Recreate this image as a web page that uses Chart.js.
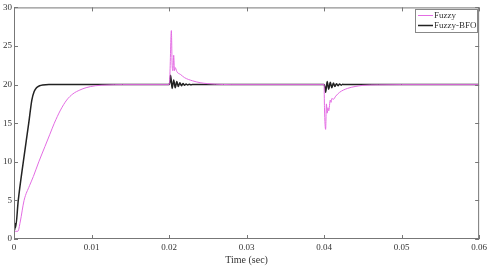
<!DOCTYPE html>
<html>
<head>
<meta charset="utf-8">
<script src="https://cdn.jsdelivr.net/npm/chart.js@4.4.0/dist/chart.umd.min.js"></script>
<style>
  html, body { margin: 0; padding: 0; background: #fff; }
  #wrap { width: 490px; height: 266px; }
</style>
</head>
<body>
<div id="wrap"><canvas id="myChart"></canvas></div>
<script>
// Fuzzy response (magenta)
let fuzzyT = [0, 0.0002, 0.0005, 0.0008, 0.0013, 0.002, 0.0025, 0.0032, 0.004, 0.0046, 0.0052, 0.006, 0.0068, 0.0076, 0.0085, 0.0093, 0.0105, 0.012, 0.014,
  0.0200, 0.0201, 0.0203, 0.0204, 0.0205, 0.0206, 0.0207, 0.0208, 0.0209, 0.021, 0.0215, 0.022, 0.023, 0.024, 0.025, 0.026, 0.028,
  0.0400, 0.04005, 0.0402, 0.0403, 0.0404, 0.0405, 0.0406, 0.0408, 0.0409, 0.041, 0.0412, 0.0415, 0.042, 0.043, 0.044, 0.045, 0.047, 0.05, 0.06]
let fuzzyY = [0.8, 1.0, 1.0, 2.2, 5, 6.9, 8.1, 10, 12, 13.5, 15, 16.7, 18, 18.8, 19.3, 19.6, 19.85, 19.95, 20,
  20, 21, 27, 22.5, 21.8, 23.8, 21.8, 22.2, 22.0, 21.7, 21.3, 20.9, 20.5, 20.25, 20.12, 20.05, 20,
  20, 17, 14.2, 17.5, 16.3, 17, 16.6, 18.0, 17.7, 18.2, 18.1, 18.5, 19.0, 19.5, 19.75, 19.9, 19.97, 20, 20]

// Fuzzy-BFO response (black)
let bfoT = [0, 0.00005, 0.0001, 0.00015, 0.0002, 0.00055, 0.0012, 0.0019, 0.0023, 0.0026, 0.0029, 0.0033, 0.0037, 0.0045,
  0.0200, 0.0201, 0.0202, 0.0204, 0.0206, 0.0208, 0.0210, 0.0212, 0.0214, 0.0216, 0.0218, 0.0220, 0.0222, 0.0224, 0.0226, 0.0228, 0.023,
  0.0400, 0.0401, 0.0402, 0.0404, 0.0406, 0.0408, 0.0410, 0.0412, 0.0414, 0.0416, 0.0418, 0.0420, 0.0422, 0.0424, 0.0426, 0.06]
let bfoY = [0.8, 1.8, 1.2, 2, 1.5, 5, 10, 15, 18, 19.1, 19.6, 19.85, 19.95, 20,
  20, 20.3, 21.2, 19.5, 20.6, 19.6, 20.4, 19.75, 20.25, 19.85, 20.15, 19.9, 20.08, 19.95, 20.04, 19.98, 20,
  20, 19.7, 19.0, 20.4, 19.4, 20.3, 19.6, 20.2, 19.75, 20.12, 19.85, 20.07, 19.93, 20.03, 20, 20]

let xTicks = [0, 0.01, 0.02, 0.03, 0.04, 0.05, 0.06]
let yTicks = [0, 5, 10, 15, 20, 25, 30]

function pts(t, y) {
  let out = []
  for (let i = 0; i < t.length; i++) out.push({ x: t[i], y: y[i] })
  return out
}

const serif = '"Liberation Serif", "Times New Roman", serif'

// inward ticks on all four sides + box + legend
const frame = {
  id: 'frame',
  afterDraw(chart) {
    const c = chart.ctx, a = chart.chartArea
    const xs = chart.scales.x, ys = chart.scales.y
    c.save()
    c.strokeStyle = '#777'
    c.lineWidth = 1
    c.strokeRect(a.left + 0.5, a.top + 0.5, a.right - a.left - 1, a.bottom - a.top - 1)
    c.beginPath()
    xTicks.forEach(v => {
      let px = Math.round(xs.getPixelForValue(v)) + 0.5
      c.moveTo(px, a.bottom); c.lineTo(px, a.bottom - 4)
      c.moveTo(px, a.top); c.lineTo(px, a.top + 4)
    })
    yTicks.forEach(v => {
      let py = Math.round(ys.getPixelForValue(v)) + 0.5
      c.moveTo(a.left, py); c.lineTo(a.left + 4, py)
      c.moveTo(a.right, py); c.lineTo(a.right - 4, py)
    })
    c.stroke()

    // legend box
    let bx = 415, by = 9, bw = 62, bh = 23
    c.fillStyle = '#fff'
    c.fillRect(bx, by, bw, bh)
    c.strokeStyle = '#888'
    c.strokeRect(bx + 0.5, by + 0.5, bw, bh)
    c.font = '9px ' + serif
    c.textBaseline = 'middle'
    chart.data.datasets.forEach((ds, i) => {
      let ly = by + 6.5 + i * 10
      c.strokeStyle = ds.borderColor
      c.lineWidth = ds.borderWidth
      c.beginPath(); c.moveTo(bx + 3, ly); c.lineTo(bx + 18, ly); c.stroke()
      c.fillStyle = '#333'
      c.fillText(ds.label, bx + 19, ly)
    })
    c.restore()
  }
}

new Chart(document.getElementById('myChart'), {
  type: 'line',
  data: {
    datasets: [{
      label: 'Fuzzy',
      data: pts(fuzzyT, fuzzyY),
      borderColor: '#e36ce3',
      borderWidth: 1,
      pointRadius: 0,
      cubicInterpolationMode: 'monotone'
    }, {
      label: 'Fuzzy-BFO',
      data: pts(bfoT, bfoY),
      borderColor: '#222',
      borderWidth: 1.5,
      pointRadius: 0,
      cubicInterpolationMode: 'monotone'
    }]
  },
  options: {
    responsive: true,
    maintainAspectRatio: false,
    animation: false,
    layout: { padding: { top: 5, right: 7, left: 0, bottom: 0 } },
    plugins: {
      legend: { display: false },
      tooltip: { enabled: false }
    },
    scales: {
      x: {
        type: 'linear',
        min: 0, max: 0.06,
        afterBuildTicks: s => { s.ticks = xTicks.map(v => ({ value: v })) },
        afterFit: s => { s.height = 27 },
        grid: { display: false, drawTicks: false },
        border: { display: false },
        ticks: {
          color: '#333', padding: 3, maxRotation: 0,
          font: { family: serif, size: 9 },
          callback: v => String(v)
        },
        title: {
          display: true, text: 'Time (sec)', color: '#333', padding: 0,
          font: { family: serif, size: 10 }
        }
      },
      y: {
        min: 0, max: 30,
        afterBuildTicks: s => { s.ticks = yTicks.map(v => ({ value: v })) },
        afterFit: s => { s.width = 14 },
        grid: { display: false, drawTicks: false },
        border: { display: false },
        ticks: {
          color: '#333', padding: 2,
          font: { family: serif, size: 9 }
        }
      }
    }
  },
  plugins: [frame]
})
</script>
</body>
</html>
